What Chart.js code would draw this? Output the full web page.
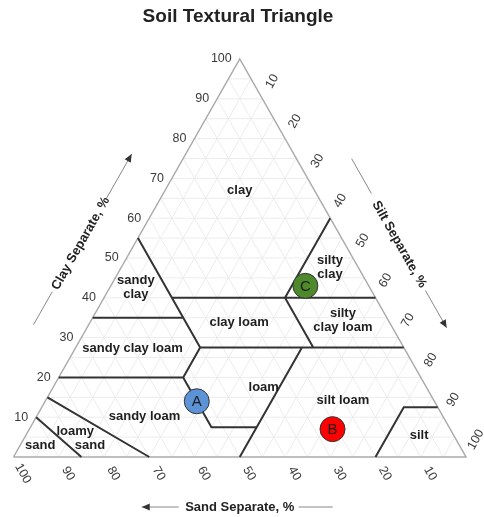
<!DOCTYPE html>
<html>
<head>
<meta charset="utf-8">
<title>Soil Textural Triangle</title>
<script src="https://cdn.jsdelivr.net/npm/chart.js@4.4.1/dist/chart.umd.min.js"></script>
<style>
  html, body { margin: 0; padding: 0; background: #fff; }
  canvas { display: block; }
</style>
</head>
<body>
<canvas id="triangle" width="484" height="517"></canvas>
<script>
// ticks along each side (percent) and spacing of the background grid
var tickValues = [10, 20, 30, 40, 50, 60, 70, 80, 90, 100];
var gridStep = 5;

// USDA class boundaries, each a polyline of [clay, silt] points
var classBoundaries = [
    [[10, 0], [0, 15]],
    [[15, 0], [0, 30]],
    [[20, 0], [20, 27.5], [7.5, 40], [7.5, 50]],
    [[0, 50], [27.5, 50]],
    [[20, 27.5], [27.5, 27.5], [55, 0]],
    [[27.5, 27.5], [27.5, 72.5]],
    [[35, 0], [35, 20]],
    [[40, 15], [40, 60]],
    [[27.5, 52.5], [40, 40], [60, 40]],
    [[0, 80], [12.5, 80], [12.5, 87.5]]
];

// class names and the [clay, silt] spot each one is written at
var classNames = ['clay', 'sandy\nclay', 'silty\nclay', 'clay loam', 'silty\nclay loam',
    'sandy clay loam', 'loam', 'silt loam', 'sandy loam', 'loamy', 'sand', 'sand', 'silt'];
var classLabelAt = [[67, 16.5], [42.5, 5.8], [47.7, 46.1], [33.7, 33], [34.2, 55.7],
    [27.4, 12.6], [17.6, 46.5], [14.2, 65.7], [10.3, 23.8], [6.5, 10.4], [3, 15.4], [3, 4.4], [5.3, 87]];

// soil samples
var sampleNames = ['A', 'B', 'C'];
var sampleSand = [52.5, 26, 14];
var sampleSilt = [33.5, 67, 43];
var sampleClay = [14, 7, 43];
var sampleColors = ['#5b93d6', '#ff0000', '#4e8a2c'];

var FONT = "'Liberation Sans', Arial, sans-serif";

// clay goes up, silt runs toward the lower right corner
function toXY(clay, silt) {
    return { x: silt + clay / 2, y: clay };
}

function segmentsData(lines) {
    var out = [];
    lines.forEach(function (line) {
        line.forEach(function (p) { out.push(toXY(p[0], p[1])); });
        out.push({ x: out[out.length - 1].x, y: null });
    });
    return out;
}

var gridLines = [];
for (var v = gridStep; v < 100; v += gridStep) {
    gridLines.push([[v, 0], [v, 100 - v]]);       // constant clay
    gridLines.push([[0, v], [100 - v, v]]);       // constant silt
    gridLines.push([[0, 100 - v], [100 - v, 0]]); // constant sand
}
var outline = [[[0, 0], [0, 100], [100, 0], [0, 0]]];

var samplePoints = sampleNames.map(function (n, i) {
    return toXY(sampleClay[i], sampleSilt[i]);
});

function arrowLine(ctx, x0, y0, x1, y1, head) {
    ctx.beginPath();
    ctx.moveTo(x0, y0);
    ctx.lineTo(x1, y1);
    ctx.stroke();
    if (!head) return;
    var ang = Math.atan2(y1 - y0, x1 - x0);
    ctx.beginPath();
    ctx.moveTo(x1, y1);
    ctx.lineTo(x1 - 8 * Math.cos(ang) + 3.5 * Math.sin(ang), y1 - 8 * Math.sin(ang) - 3.5 * Math.cos(ang));
    ctx.lineTo(x1 - 8 * Math.cos(ang) - 3.5 * Math.sin(ang), y1 - 8 * Math.sin(ang) + 3.5 * Math.cos(ang));
    ctx.closePath();
    ctx.fill();
}

var labelPlugin = {
    id: 'triangleLabels',
    afterDatasetsDraw: function (chart) {
        var ctx = chart.ctx;
        var xs = chart.scales.x, ys = chart.scales.y;
        function px(clay, silt) {
            var p = toXY(clay, silt);
            return { x: xs.getPixelForValue(p.x), y: ys.getPixelForValue(p.y) };
        }
        function unit(a, b) {
            var dx = b.x - a.x, dy = b.y - a.y, l = Math.sqrt(dx * dx + dy * dy);
            return { x: dx / l, y: dy / l };
        }
        var top = px(100, 0), left = px(0, 0), right = px(0, 100);

        ctx.save();
        ctx.textAlign = 'center';
        ctx.textBaseline = 'middle';

        // class names
        ctx.fillStyle = '#1e1e1e';
        ctx.font = 'bold 13px ' + FONT;
        classNames.forEach(function (name, i) {
            var p = px(classLabelAt[i][0], classLabelAt[i][1]);
            var lines = name.split('\n');
            lines.forEach(function (t, k) {
                ctx.fillText(t, p.x, p.y + (k - (lines.length - 1) / 2) * 14);
            });
        });

        // sample letters
        ctx.font = '15px ' + FONT;
        samplePoints.forEach(function (p, i) {
            ctx.fillText(sampleNames[i], xs.getPixelForValue(p.x), ys.getPixelForValue(p.y) + 1);
        });

        // tick labels
        ctx.fillStyle = '#3a3a3a';
        ctx.font = '12.5px ' + FONT;
        var siltDir = unit(px(0, 50), px(50, 50));
        var sandDir = unit(px(50, 0), px(0, 50));
        tickValues.forEach(function (t) {
            var c = px(t, 0);
            ctx.textAlign = 'right';
            ctx.fillText(String(t), c.x - 8, c.y);
            ctx.textAlign = 'center';

            var s = px(100 - t, t);
            ctx.save();
            ctx.translate(s.x + siltDir.x * 20, s.y + siltDir.y * 20);
            ctx.rotate(Math.atan2(siltDir.y, siltDir.x));
            ctx.fillText(String(t), 0, 0);
            ctx.restore();

            var b = px(0, 100 - t);
            ctx.save();
            ctx.translate(b.x + sandDir.x * 19, b.y + sandDir.y * 19);
            ctx.rotate(Math.atan2(sandDir.y, sandDir.x));
            ctx.fillText(String(t), 0, 0);
            ctx.restore();
        });

        // axis titles with their guide lines
        ctx.font = 'bold 13px ' + FONT;
        ctx.strokeStyle = '#888';
        ctx.lineWidth = 1;
        function sideTitle(text, end, normalSign, textAt, plain, arrow) {
            var e = unit(top, end);
            var n = { x: -e.y * normalSign, y: e.x * normalSign };
            function at(a, d) { return { x: top.x + e.x * a + n.x * d, y: top.y + e.y * a + n.y * d }; }
            var p0 = at(plain[0], 48), p1 = at(plain[1], 48);
            arrowLine(ctx, p0.x, p0.y, p1.x, p1.y, false);
            var a0 = at(arrow[0], 47), a1 = at(arrow[1], 47);
            ctx.fillStyle = '#333';
            arrowLine(ctx, a0.x, a0.y, a1.x, a1.y, true);
            var c = at(textAt, 47);
            ctx.save();
            ctx.translate(c.x, c.y);
            var ang = Math.atan2(e.y, e.x);
            if (e.x < 0) ang += Math.PI;
            ctx.rotate(ang);
            ctx.fillStyle = '#222';
            ctx.fillText(text, 0, 0);
            ctx.restore();
        }
        sideTitle('Clay Separate, %', left, 1, 239, [295, 333], [187, 136]);
        sideTitle('Silt Separate, %', right, -1, 240, [142, 182], [293, 336]);

        var mx = (left.x + right.x) / 2, by = left.y + 50;
        ctx.fillStyle = '#222';
        ctx.fillText('Sand Separate, %', mx, by);
        arrowLine(ctx, mx + 59, by, mx + 93, by, false);
        ctx.fillStyle = '#333';
        arrowLine(ctx, mx - 61, by, mx - 98, by, true);
        ctx.restore();
    }
};

new Chart(document.getElementById('triangle'), {
    type: 'scatter',
    data: {
        datasets: [{
            label: 'Samples',
            data: samplePoints,
            pointRadius: 12.5,
            pointBackgroundColor: sampleColors,
            pointBorderColor: '#333',
            pointBorderWidth: 1,
            clip: false
        }, {
            label: 'Class boundaries',
            data: segmentsData(classBoundaries),
            showLine: true,
            borderColor: '#333',
            borderWidth: 2,
            pointRadius: 0,
            spanGaps: false,
            clip: false
        }, {
            label: 'Outline',
            data: segmentsData(outline),
            showLine: true,
            borderColor: '#aaa',
            borderWidth: 1.5,
            pointRadius: 0,
            clip: false
        }, {
            label: 'Grid',
            data: segmentsData(gridLines),
            showLine: true,
            borderColor: '#ececec',
            borderWidth: 1,
            pointRadius: 0,
            spanGaps: false,
            clip: false
        }]
    },
    options: {
        responsive: false,
        animation: false,
        events: [],
        layout: { padding: { left: 10, right: 18, top: 0, bottom: 60 } },
        plugins: {
            legend: { display: false },
            tooltip: { enabled: false },
            title: {
                display: true,
                text: 'Soil Textural Triangle',
                color: '#222',
                font: { size: 19, weight: 'bold', family: FONT },
                padding: { top: 5, bottom: 31.2 }
            }
        },
        scales: {
            x: { type: 'linear', min: 0, max: 100, display: false },
            y: { type: 'linear', min: 0, max: 100, display: false }
        }
    },
    plugins: [labelPlugin]
});
</script>
</body>
</html>
